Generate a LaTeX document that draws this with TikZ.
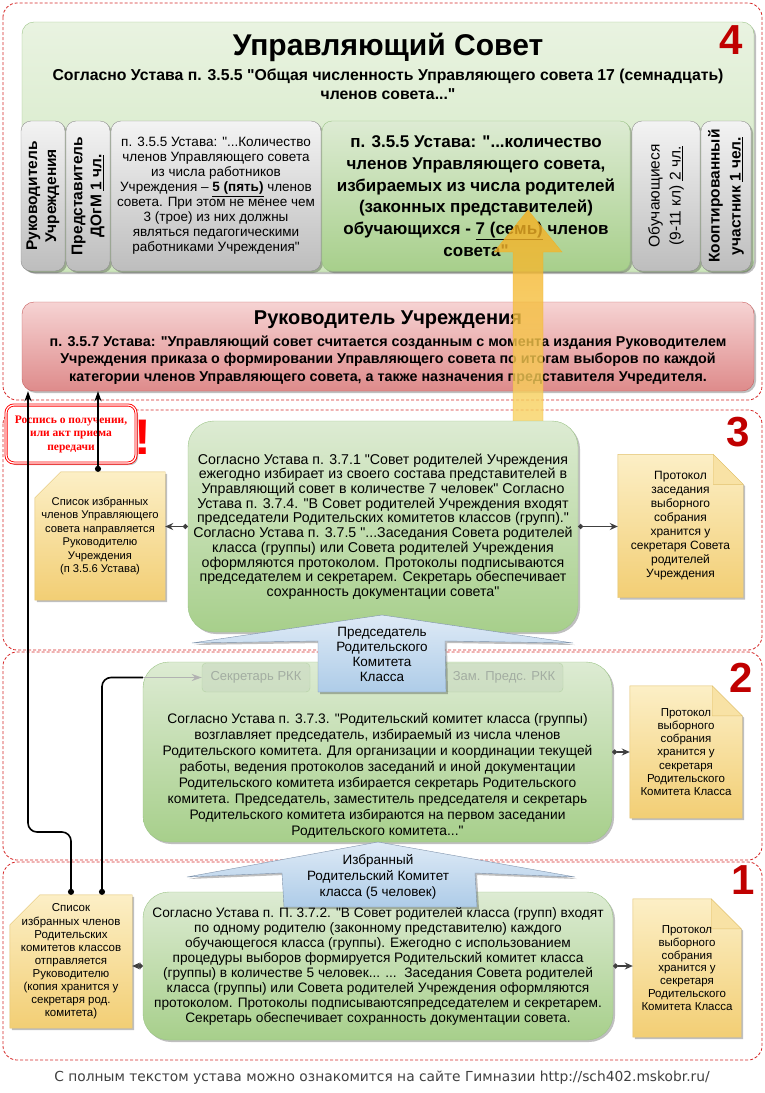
\documentclass[tikz,border=0pt]{standalone}
\usepackage{fontspec}
\setmainfont{Liberation Sans}[Ligatures=TeXOff]
\newfontfamily\rospisfont{Liberation Serif}[Ligatures=TeXOff]
\newfontfamily\footfont{DejaVu Sans}[Ligatures=TeXOff]
\usetikzlibrary{arrows.meta,shadows,backgrounds}

\definecolor{frameRed}{HTML}{D62828}
\definecolor{numRed}{HTML}{C00000}
\definecolor{topTop}{HTML}{E9F3E1}
\definecolor{topBot}{HTML}{CDE5BC}
\definecolor{grnTop}{HTML}{DDEBD3}
\definecolor{grnBot}{HTML}{A7CF8B}
\definecolor{grnLine}{HTML}{9CC487}
\definecolor{gryTop}{HTML}{F3F3F3}
\definecolor{gryBot}{HTML}{BDBDBD}
\definecolor{gryLine}{HTML}{909090}
\definecolor{redTop}{HTML}{F6D3D3}
\definecolor{redBot}{HTML}{DE8B8B}
\definecolor{redLine}{HTML}{C65B5B}
\definecolor{yelTop}{HTML}{FCEFC6}
\definecolor{yelBot}{HTML}{F2CE74}
\definecolor{yelLine}{HTML}{E2C26E}
\definecolor{bluTop}{HTML}{DEEAF6}
\definecolor{bluBot}{HTML}{AECCE8}
\definecolor{bluLine}{HTML}{7F93AB}
\definecolor{argTop}{HTML}{F3AE1E}
\definecolor{argBot}{HTML}{F8D466}
\definecolor{fadeFill}{HTML}{C9D9C0}
\definecolor{fadeText}{HTML}{A3ADA2}

\tikzset{
  sect/.style={draw=frameRed, line width=0.8pt, dash pattern=on 3pt off 2pt, rounded corners=14pt},
  shad/.style={drop shadow={shadow xshift=2pt, shadow yshift=-2pt, opacity=0.25, fill=black}},
  num/.style={text=numRed, font=\fontsize{42}{42}\selectfont\bfseries},
  topbox/.style={draw=grnLine, top color=topTop, bottom color=topBot, rounded corners=12pt, shad},
  colgray/.style={draw=gryLine, top color=gryTop, bottom color=gryBot, rounded corners=10pt, align=center, inner sep=0pt, shad},
  colgreen/.style={draw=grnLine, top color=grnTop, bottom color=grnBot, rounded corners=10pt, align=center, inner sep=0pt, shad},
  colrot/.style={rotate=90, font=\fontsize{15.5}{19}\selectfont\bfseries},
  redbox/.style={draw=redLine, top color=redTop, bottom color=redBot, rounded corners=12pt, shad},
  rospis/.style={draw=red, double=white, double distance=1.2pt, line width=0.9pt, fill=white, rounded corners=8pt,
    align=center, text=red, inner sep=0pt, font=\rospisfont\bfseries\fontsize{11.5}{13.5}\selectfont, shad},
  gbox/.style={draw=grnLine, top color=grnTop, bottom color=grnBot, rounded corners=26pt, align=center, inner sep=0pt, shad},
  body/.style={align=center, font=\fontsize{14.2}{14.7}\selectfont},
  notetext/.style={align=center, inner sep=0pt},
  note/.style={draw=yelLine, top color=yelTop, bottom color=yelBot, shad},
  fold/.style={draw=yelLine, fill=yelTop!60!yelBot},
  fade/.style={draw=grnLine, draw opacity=0.5, fill=fadeFill, fill opacity=0.6, text=fadeText, text opacity=1,
    rounded corners=4pt, inner sep=0pt, font=\fontsize{13}{14}\selectfont},
  blue arrow/.style={draw=bluLine, top color=bluTop, bottom color=bluBot, shad},
  wire/.style={line width=1.6pt, black, rounded corners=9pt},
  conn/.style={line width=1.3pt, black!75, {Circle[length=5pt]}-{Stealth[length=8pt,width=7pt]}},
}

\begin{document}
\begin{tikzpicture}[x=1pt,y=-1pt]
\path[use as bounding box] (0,0) rectangle (765,1093);
\begin{scope}[on background layer]
  \fill[white] (0,0) rectangle (765,1093);
\end{scope}

% levels
\draw[sect] (3,3) rectangle (762,400);
\draw[sect] (3,410) rectangle (762,650);
\draw[sect] (3,652) rectangle (762,860);
\draw[sect] (3,862) rectangle (762,1060);

% 4
\node[topbox, minimum width=732pt, minimum height=250pt] (usovet) at (388,147) {};
\node[font=\fontsize{30}{32}\selectfont\bfseries] (ustitle) at (388,47) {Управляющий Совет};
\node[align=center, font=\fontsize{15.8}{19}\selectfont\bfseries] (ussub) at (388,84.5)
  {Согласно Устава п. 3.5.5 "Общая численность Управляющего совета 17 (семнадцать)\\членов совета..."};
\node[num] (n4) at (731,40) {4};

\node[colgray, colrot, minimum width=150pt, minimum height=44pt] (cruk) at (43,196) {Руководитель\\Учреждения};
\node[colgray, colrot, minimum width=150pt, minimum height=44pt] (cdogm) at (88,196) {Представитель\\ДОгМ \underline{1 чл.}};
\node[colgray, minimum width=210pt, minimum height=150pt, font=\fontsize{13.5}{15}\selectfont] (crab) at (216,196)
  {п. 3.5.5 Устава: "...Количество\\членов Управляющего совета\\из числа работников\\Учреждения – \textbf{\underline{5 (пять)}} членов\\совета. При этом не менее чем\\3 (трое) из них должны\\являться педагогическими\\работниками Учреждения"};
\node[colgreen, minimum width=308pt, minimum height=150pt, font=\fontsize{17}{21.7}\selectfont\bfseries] (crod) at (476,196)
  {п. 3.5.5 Устава: "...количество\\членов Управляющего совета,\\избираемых из числа родителей\\(законных представителей)\\обучающихся - \underline{7 (семь)} членов\\совета"};
\node[colgray, colrot, minimum width=150pt, minimum height=68pt, font=\fontsize{15.5}{21}\selectfont] (cobuch) at (666,196) {Обучающиеся\\(9-11 кл) \underline{2 чл.}};
\node[colgray, colrot, minimum width=150pt, minimum height=50pt, font=\fontsize{15.5}{21}\selectfont\bfseries] (ckoopt) at (726,196) {Кооптированный\\участник \underline{1 чел.}};

\node[redbox, minimum width=732pt, minimum height=89pt] (rukbox) at (388,346.5) {};
\node[font=\fontsize{20}{22}\selectfont\bfseries] (ruktitle) at (388,320) {Руководитель Учреждения};
\node[align=center, font=\fontsize{14.3}{17.5}\selectfont\bfseries] (ruktext) at (388,360)
  {п. 3.5.7 Устава: "Управляющий совет считается созданным с момента издания Руководителем\\Учреждения приказа о формировании Управляющего совета по итогам выборов по каждой\\категории членов Управляющего совета, а также назначения представителя Учредителя.};

\shade[top color=argTop, bottom color=argBot, draw=argTop, opacity=0.8]
  (528,210) -- (562,252) -- (543,252) -- (543,422) -- (513,422) -- (513,252) -- (494,252) -- cycle;

% 3
\node[rospis, minimum width=130pt, minimum height=58pt] (rospis) at (71,434) {Роспись о получении,\\или акт приема\\передачи};
\node[text=red, font=\fontsize{50}{50}\selectfont\bfseries] (excl) at (143,437) {!};
\node[num] (n3) at (738,432) {3};

\node[notetext, minimum width=130pt, minimum height=128pt, font=\fontsize{11.2}{13.4}\selectfont] (n3l) at (100,536)
  {Список избранных\\членов Управляющего\\совета направляется\\Руководителю\\Учреждения\\(п 3.5.6 Устава)};
\node[gbox, body, minimum width=390pt, minimum height=211pt] (s3box) at (383,526.5)
  {Согласно Устава п. 3.7.1 "Совет родителей Учреждения\\ежегодно избирает из своего состава представителей в\\Управляющий совет в количестве 7 человек" Согласно\\Устава п. 3.7.4. "В Совет родителей Учреждения входят\\председатели Родительских комитетов классов (групп)."\\Согласно Устава п. 3.7.5 "...Заседания Совета родителей\\класса (группы) или Совета родителей Учреждения\\оформляются протоколом. Протоколы подписываются\\председателем и секретарем. Секретарь обеспечивает\\сохранность документации совета"};
\node[notetext, minimum width=125pt, minimum height=143pt, font=\fontsize{12}{14}\selectfont] (n3r) at (680.5,526)
  {Протокол\\заседания\\выборного\\собрания\\хранится у\\секретаря Совета\\родителей\\Учреждения};
\draw[conn] (s3box.west) -- (s3box.west -| n3l.east);
\draw[conn] (s3box.east) -- (s3box.east -| n3r.west);

% 2
\node[gbox, minimum width=469pt, minimum height=180pt] (s2box) at (377.5,752) {};
\node[body, font=\fontsize{13.8}{16}\selectfont] (s2text) at (377.5,776)
  {Согласно Устава п. 3.7.3. "Родительский комитет класса (группы)\\возглавляет председатель, избираемый из числа членов\\Родительского комитета. Для организации и координации текущей\\работы, ведения протоколов заседаний и иной документации\\Родительского комитета избирается секретарь Родительского\\комитета. Председатель, заместитель председателя и секретарь\\Родительского комитета избираются на первом заседании\\Родительского комитета..."};
\node[fade, minimum width=108pt, minimum height=29pt] (seckk) at (256,677.5) {Секретарь РКК};
\node[fade, minimum width=118pt, minimum height=29pt] (zamkk) at (504,677.5) {Зам. Предс. РКК};
\node[notetext, minimum width=112pt, minimum height=132pt, font=\fontsize{11.5}{13.2}\selectfont] (n2r) at (686,752)
  {Протокол\\выборного\\собрания\\хранится у\\секретаря\\Родительского\\Комитета Класса};
\node[num] (n2) at (741,677.5) {2};
\draw[conn] (s2box.east) -- (s2box.east -| n2r.west);

\shade[blue arrow] (382,615) -- (573,643) -- (445,641) -- (446,692) -- (318,692) -- (318,641) -- (192,643) -- cycle;
\node[align=center, font=\fontsize{13.5}{15}\selectfont] (pred) at (382,654.5) {Председатель\\Родительского\\Комитета\\Класса};

% 1
\node[gbox, minimum width=470pt, minimum height=148pt, font=\fontsize{13.7}{15}\selectfont] (s1box) at (378,966)
  {Согласно Устава п. П. 3.7.2. "В Совет родителей класса (групп) входят\\по одному родителю (законному представителю) каждого\\обучающегося класса (группы). Ежегодно с использованием\\процедуры выборов формируется Родительский комитет класса\\(группы) в количестве 5 человек... ...\ \ Заседания Совета родителей\\класса (группы) или Совета родителей Учреждения оформляются\\протоколом. Протоколы подписываютсяпредседателем и секретарем.\\Секретарь обеспечивает сохранность документации совета.};
\node[notetext, minimum width=122pt, minimum height=133pt, font=\fontsize{11.5}{13.1}\selectfont] (n1l) at (71,961.5)
  {Список\\избранных членов\\Родительских\\комитетов классов\\отправляется\\Руководителю\\(копия хранится у\\секретаря род.\\комитета)};
\node[notetext, minimum width=108pt, minimum height=138pt, font=\fontsize{11.5}{12.8}\selectfont] (n1r) at (687,968)
  {Протокол\\выборного\\собрания\\хранится у\\секретаря\\Родительского\\Комитета Класса};
\node[num] (n1) at (743,880) {1};
\draw[conn] (s1box.west) -- (s1box.west -| n1l.east);
\draw[conn] (s1box.east) -- (s1box.east -| n1r.west);

\shade[blue arrow] (378,842) -- (575,877) -- (475,873) -- (477,907) -- (284,907) -- (282,873) -- (187,877) -- cycle;
\node[align=center, font=\fontsize{13.5}{16}\selectfont] (izbr) at (378,877) {Избранный\\Родительский Комитет\\класса (5 человек)};

% notes
\begin{scope}[on background layer]
  \shade[note] ([xshift=26pt]n3l.north west) -- (n3l.north east) -- (n3l.south east) -- (n3l.south west) -- ([yshift=-26pt]n3l.north west) -- cycle;
  \shade[note] ([xshift=30pt]n1l.north west) -- (n1l.north east) -- (n1l.south east) -- (n1l.south west) -- ([yshift=-30pt]n1l.north west) -- cycle;
  \shade[note] (n3r.north west) -- ([xshift=-30pt]n3r.north east) -- ([yshift=-30pt]n3r.north east) -- (n3r.south east) -- (n3r.south west) -- cycle;
  \filldraw[fold] ([xshift=-30pt]n3r.north east) -- ([xshift=-30pt,yshift=-30pt]n3r.north east) -- ([yshift=-30pt]n3r.north east) -- cycle;
  \shade[note] (n2r.north west) -- ([xshift=-30pt]n2r.north east) -- ([yshift=-30pt]n2r.north east) -- (n2r.south east) -- (n2r.south west) -- cycle;
  \filldraw[fold] ([xshift=-30pt]n2r.north east) -- ([xshift=-30pt,yshift=-30pt]n2r.north east) -- ([yshift=-30pt]n2r.north east) -- cycle;
  \shade[note] (n1r.north west) -- ([xshift=-30pt]n1r.north east) -- ([yshift=-30pt]n1r.north east) -- (n1r.south east) -- (n1r.south west) -- cycle;
  \filldraw[fold] ([xshift=-30pt]n1r.north east) -- ([xshift=-30pt,yshift=-30pt]n1r.north east) -- ([yshift=-30pt]n1r.north east) -- cycle;
\end{scope}

% lists to the head
\coordinate (bendA) at (28,832);
\coordinate (wireB) at ([xshift=31pt]n1l.north);
\coordinate (wireC) at ([xshift=-2pt]n3l.north);
\draw[wire, {Circle[length=6pt]}-{Stealth[length=10pt,width=7pt]}] (n1l.north) |- (bendA) -- (bendA |- rukbox.south);
\draw[wire, {Circle[length=6pt]}-] (wireB) |- (s2box.west |- seckk.west);
\draw[wire, black!30, -{Stealth[length=10pt,width=7pt]}] (s2box.west |- seckk.west) -- (seckk.west);
\draw[wire, {Circle[length=6pt]}-{Stealth[length=10pt,width=7pt]}] (wireC) -- (wireC |- rukbox.south);

\node[font=\footfont\fontsize{13.8}{16}\selectfont, text=black!75] (foot) at (382,1078)
  {С полным текстом устава можно ознакомится на сайте Гимназии http://sch402.mskobr.ru/};
\end{tikzpicture}
\end{document}
